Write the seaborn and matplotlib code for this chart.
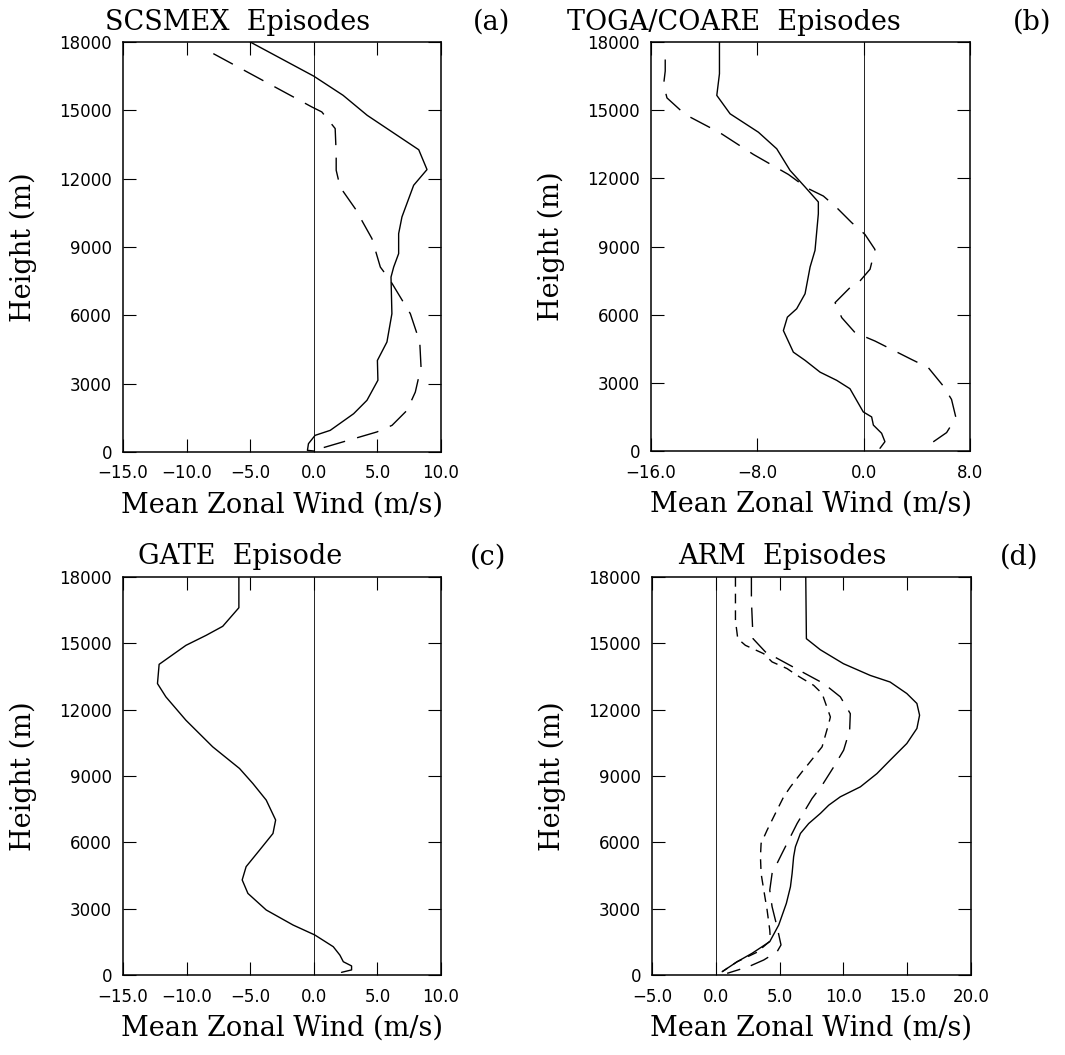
import numpy as np
import pandas as pd
import matplotlib
matplotlib.use("Agg")
import matplotlib.pyplot as plt
import seaborn as sns

# ---------------- data ----------------
# (a) SCSMEX
a_solid_u = [-5.0, 0.0, 2.3, 4.2, 8.25, 8.9, 7.85, 6.93, 6.67, 6.67, 6.28, 6.07, 6.14, 5.75, 5.0, 5.04, 4.18, 3.13, 1.29, 0.1, -0.42, -0.5, 0.0]
a_solid_z = [18000, 16500, 15660, 14780, 13270, 12400, 11710, 10320, 9585, 8710, 8120, 7680, 6070, 4830, 4020, 3150, 2270, 1680, 950, 730, 365, 73, 44]
a_dash_u = [-7.9, -0.16, 0.63, 1.68, 1.76, 1.76, 2.07, 3.26, 4.57, 5.23, 6.0, 7.59, 8.33, 8.43, 7.98, 7.33, 6.15, 4.96, 0.5]
a_dash_z = [17490, 15150, 14930, 14200, 13100, 12370, 11630, 10680, 9370, 8120, 7540, 6070, 4830, 3730, 2630, 1830, 1170, 880, 150]

# (b) TOGA/COARE
b_solid_u = [-10.85, -10.85, -11.05, -10.05, -7.92, -6.54, -5.54, -4.41, -3.41, -3.41, -3.66, -4.03, -4.41, -5.04, -5.74, -6.04, -5.29, -4.41, -3.28, -2.03, -1.03, -0.03, 0.6, 0.73, 1.35, 1.6, 1.23]
b_solid_z = [18000, 16600, 15650, 14840, 14030, 13300, 12350, 11620, 10960, 10440, 8830, 8100, 6920, 6260, 5890, 5300, 4350, 3990, 3470, 3110, 2740, 1720, 1500, 1140, 780, 410, 120]
b_dash_u = [-14.93, -14.93, -15.05, -14.8, -13.43, -10.8, -8.29, -5.66, -4.28, -3.03, -2.03, -0.9, 0.1, 0.85, 0.48, -0.4, -1.03, -2.15, -1.65, -0.65, 0.85, 3.6, 4.86, 5.99, 6.61, 6.94, 6.24, 4.61]
b_dash_z = [17230, 16720, 16130, 15540, 14810, 14000, 13050, 12170, 11580, 11220, 10710, 10050, 9530, 8870, 8000, 7400, 7190, 6530, 5870, 5210, 4840, 4030, 3670, 2860, 2270, 1470, 810, 150]

# (c) GATE
c_solid_u = [-5.89, -5.89, -7.16, -8.47, -10.05, -12.16, -12.29, -11.63, -10.05, -7.95, -5.84, -4.79, -3.74, -3.0, -3.21, -4.26, -5.32, -5.63, -5.18, -3.74, -1.63, 0.08, 1.53, 2.05, 2.32, 2.97, 2.97, 2.18]
c_solid_z = [18000, 16610, 15770, 15360, 14910, 14050, 13180, 12580, 11520, 10320, 9340, 8660, 7910, 7010, 6400, 5650, 4900, 4300, 3690, 2940, 2260, 1810, 1280, 900, 600, 410, 230, 120]

# (d) ARM
d_solid_u = [7.05, 7.1, 8.19, 10.0, 12.1, 13.66, 14.97, 15.76, 15.97, 15.76, 14.97, 13.67, 12.63, 11.33, 9.76, 8.85, 8.2, 7.28, 6.63, 6.24, 6.1, 5.98, 5.85, 5.53, 4.93, 4.23, 2.84, 1.67, 0.5]
d_solid_z = [18000, 15210, 14710, 14080, 13550, 13250, 12730, 12280, 11750, 11150, 10470, 9720, 9110, 8510, 8060, 7680, 7310, 6850, 6400, 5800, 5350, 4590, 3990, 3240, 2260, 1510, 980, 600, 150]
d_long_u = [2.79, 2.79, 2.92, 3.89, 6.76, 8.46, 9.76, 10.54, 10.49, 10.02, 9.24, 8.33, 7.54, 6.37, 5.19, 4.41, 4.23, 4.41, 4.8, 5.11, 4.8, 3.76, 2.58, 0.89]
d_long_z = [18000, 16950, 15210, 14610, 13710, 13180, 12580, 11820, 11070, 10170, 9410, 8580, 7980, 6850, 5500, 4590, 3840, 3090, 2180, 1360, 1050, 680, 380, 75]
d_short_u = [1.54, 1.54, 1.72, 2.32, 3.76, 4.41, 5.58, 6.37, 7.67, 8.33, 8.98, 8.85, 8.33, 7.28, 6.76, 5.85, 5.32, 4.67, 4.02, 3.55, 3.5, 3.55, 3.76, 4.02, 4.23, 4.28, 3.23, 1.67, 0.5]
d_short_z = [18000, 16040, 15210, 14910, 14530, 14160, 13860, 13550, 13100, 12730, 11670, 11370, 10320, 9560, 9190, 8510, 8060, 7310, 6550, 5950, 5350, 4590, 3840, 2940, 2030, 1550, 1030, 600, 150]

titles = ["SCSMEX  Episodes", "TOGA/COARE  Episodes", "GATE  Episode", "ARM  Episodes"]
panel_tags = ["(a)", "(b)", "(c)", "(d)"]
y_ticks = [0, 3000, 6000, 9000, 12000, 15000, 18000]
y_ticklabels = ["0", "3000", "6000", "9000", "12000", "15000", "18000"]
x_ticks_a = [-15, -10, -5, 0, 5, 10]
x_ticklabels_a = ["\u221215.0", "\u221210.0", "\u22125.0", "0.0", "5.0", "10.0"]
x_ticks_b = [-16, -8, 0, 8]
x_ticklabels_b = ["\u221216.0", "\u22128.0", "0.0", "8.0"]
x_ticks_d = [-5, 0, 5, 10, 15, 20]
x_ticklabels_d = ["\u22125.0", "0.0", "5.0", "10.0", "15.0", "20.0"]
xlabel = "Mean Zonal Wind (m/s)"
ylabel = "Height (m)"

# ---------------- style ----------------
sns.set_style("ticks")
plt.rcParams["font.family"] = ["DejaVu Sans"]
plt.rcParams["lines.scale_dashes"] = False
plt.rcParams["text.color"] = "black"
plt.rcParams["axes.labelcolor"] = "black"

W, H = 1065, 1055
fig = plt.figure(figsize=(W / 100, H / 100), dpi=100)

def rect(l, t, r, b):
    return [l / W, 1 - b / H, (r - l) / W, (b - t) / H]

ax_rects = [rect(123, 42, 441, 452), rect(651, 42, 970, 451),
            rect(123, 577, 441, 975), rect(652, 577, 971, 975)]
xlims = [(-15, 10), (-16, 8), (-15, 10), (-5, 20)]
xticks = [(x_ticks_a, x_ticklabels_a), (x_ticks_b, x_ticklabels_b),
          (x_ticks_a, x_ticklabels_a), (x_ticks_d, x_ticklabels_d)]

series = [
    [(a_solid_u, a_solid_z, "-"), (a_dash_u, a_dash_z, (0, (16, 9)))],
    [(b_solid_u, b_solid_z, "-"), (b_dash_u, b_dash_z, (0, (16, 9)))],
    [(c_solid_u, c_solid_z, "-")],
    [(d_solid_u, d_solid_z, "-"), (d_long_u, d_long_z, (0, (14, 8))),
     (d_short_u, d_short_z, (0, (7, 5)))],
]

title_pos = [(105, 22, 473, 22), (567, 22, 1013, 22), (138, 557, 470, 557), (678, 557, 1000, 557)]

serif = ["DejaVu Serif"]
FS = 19.5
for i in range(4):
    ax = fig.add_axes(ax_rects[i])
    for u, z, ls in series[i]:
        df = pd.DataFrame({"u": u, "z": z})
        sns.lineplot(data=df, x="u", y="z", sort=False, estimator=None,
                     color="black", linewidth=1.0, linestyle=ls, ax=ax)
    ax.axvline(0, color="black", linewidth=0.6)
    ax.set_xlim(*xlims[i])
    ax.set_ylim(0, 18000)
    ax.set_xticks(xticks[i][0], xticks[i][1])
    ax.set_yticks(y_ticks, y_ticklabels)
    ax.tick_params(direction="in", top=True, right=True, length=9.5, width=0.8,
                   labelsize=12, pad=8, colors="black")
    ax.tick_params(axis="x", pad=9)
    for s in ax.spines.values():
        s.set_linewidth(1.1)
        s.set_color("black")
    ax.set_xlabel(xlabel, fontsize=FS, family=serif, color="black")
    ax.set_ylabel(ylabel, fontsize=FS, family=serif, color="black")
    h = ax_rects[i][3] * H
    ax.xaxis.set_label_coords(0.5, -40 / h)
    ax.yaxis.set_label_coords(-86 / 318, 0.5)
    tx, ty, px, py = title_pos[i]
    fig.text(tx / W, 1 - ty / H, titles[i], fontsize=FS, family=serif, ha="left", va="center", color="black")
    fig.text(px / W, 1 - py / H, panel_tags[i], fontsize=FS, family=serif, ha="left", va="center", color="black")

fig.savefig("out.png", dpi=100, facecolor="white")
